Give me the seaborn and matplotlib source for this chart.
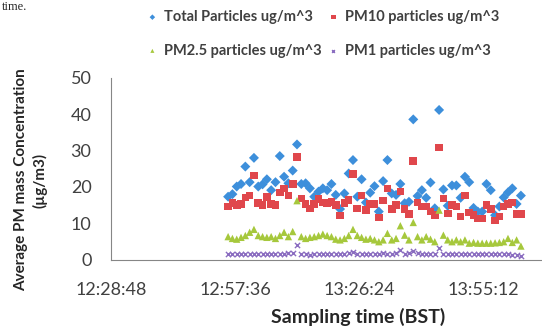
import numpy as np
import pandas as pd
import matplotlib.pyplot as plt
import matplotlib.dates as mdates
import seaborn as sns

# one reading per minute, 12:56 -> 14:04
start_time = "2013-01-01 12:56:00"
n_samples = 69

total = [17.3, 18.0, 20.1, 20.8, 25.6, 21.3, 28.0, 20.1, 20.7, 22.1, 19.1, 21.3, 28.5, 22.8, 21.0, 24.5, 31.7,
         20.8, 21.0, 19.6, 17.3, 18.7, 19.6, 19.1, 20.8, 17.8, 13.9, 18.2, 23.7, 27.4, 17.3, 22.1, 15.7, 18.4,
         20.2, 13.2, 21.6, 27.4, 18.2, 17.8, 20.8, 15.5, 15.9, 38.6, 17.5, 19.1, 17.0, 21.2, 14.1, 41.2, 19.3,
         14.8, 20.4, 20.4, 17.0, 22.8, 21.3, 14.2, 13.2, 13.2, 20.8, 19.1, 12.2, 14.6, 17.1, 18.5, 19.6, 15.3, 17.6]
pm10 = [14.6, 15.5, 15.0, 15.3, 17.1, 17.6, 23.1, 15.5, 15.0, 17.3, 15.3, 15.0, 18.5, 19.6, 17.6, 20.8, 28.3,
        16.8, 15.3, 14.1, 15.3, 16.6, 15.7, 15.5, 15.9, 15.0, 12.1, 15.5, 16.4, 23.5, 14.1, 17.6, 13.6, 15.3,
        15.3, 11.6, 16.2, 19.6, 13.9, 15.0, 18.7, 13.9, 12.5, 27.2, 15.7, 14.6, 14.6, 13.2, 12.2, 30.9, 16.8,
        12.7, 15.0, 14.6, 11.8, 17.6, 13.0, 12.2, 11.3, 11.3, 15.0, 13.9, 10.7, 11.8, 14.6, 15.3, 15.7, 12.5, 12.5]
pm25 = [6.3, 5.8, 5.6, 6.1, 6.6, 7.5, 8.3, 6.6, 6.3, 6.1, 6.3, 5.8, 6.6, 7.5, 6.3, 7.7, 16.2,
        6.3, 5.8, 6.1, 6.3, 6.6, 7.0, 6.6, 6.3, 5.6, 5.4, 5.8, 6.6, 8.3, 6.6, 6.1, 5.6, 5.8,
        5.4, 4.9, 5.4, 7.2, 5.4, 5.8, 9.3, 6.7, 5.4, 10.2, 6.3, 5.4, 6.3, 5.6, 4.9, 13.6, 6.7,
        5.4, 4.9, 5.4, 4.9, 5.4, 4.5, 4.7, 4.5, 4.5, 4.5, 4.5, 4.6, 4.7, 4.9, 5.8, 4.7, 5.4, 3.7]
pm1 = [1.4, 1.5, 1.4, 1.5, 1.6, 1.5, 1.5, 1.4, 1.5, 1.5, 1.4, 1.5, 1.5, 1.6, 1.9, 1.7, 4.0,
       1.4, 1.4, 1.3, 1.4, 1.5, 1.5, 1.5, 1.5, 1.4, 1.5, 1.6, 1.7, 2.0, 1.6, 1.5, 1.4, 1.5,
       1.5, 1.4, 1.8, 1.6, 1.5, 1.9, 2.6, 1.6, 1.8, 2.4, 1.7, 1.5, 1.5, 1.4, 1.4, 3.1, 1.6,
       1.4, 1.4, 1.4, 1.5, 1.4, 1.4, 1.5, 1.4, 1.4, 1.5, 1.4, 1.4, 1.4, 1.5, 1.4, 1.3, 1.2, 1.0]

series_names = ["Total Particles ug/m^3", "PM10 particles ug/m^3",
                "PM2.5 particles ug/m^3", "PM1 particles ug/m^3"]
tick_labels = ["12:28:48", "12:57:36", "13:26:24", "13:55:12"]

times = pd.date_range(start_time, periods=n_samples, freq="1min")
day = "2013-01-01 "

sns.set_style("white")
plt.rcParams["font.family"] = ["Lato", "DejaVu Sans"]

fig = plt.figure(figsize=(5.42, 3.33), dpi=100)
ax = fig.add_axes([111 / 542, 1 - 259.5 / 333, 1 - 111 / 542, (259.5 - 78) / 333])

colors = ["#3d8fdb", "#e0474c", "#a6c83c", "#8a6cc0"]
markers = ["D", "s", "^", "x"]
sizes = [26, 30, 28, 14]
for name, vals, c, m, s in zip(series_names, [total, pm10, pm25, pm1], colors, markers, sizes):
    if m == "x":
        sns.scatterplot(x=times, y=vals, color=c, marker=m, s=s, linewidth=1.0, label=name, ax=ax)
    else:
        sns.scatterplot(x=times, y=vals, color=c, marker=m, s=s, linewidth=0, edgecolor="none",
                        label=name, ax=ax)

ax.set_ylim(0, 50)
ax.set_yticks([0, 10, 20, 30, 40, 50])
ax.set_xlim(pd.Timestamp(day + "12:28:48"), pd.Timestamp(day + "14:08:54"))
ax.set_xticks([pd.Timestamp(day + t) for t in tick_labels])
ax.xaxis.set_major_formatter(mdates.DateFormatter("%H:%M:%S"))
ax.set_xlabel("")
ax.set_ylabel("")

for side in ["top", "right"]:
    ax.spines[side].set_visible(False)
for side in ["left", "bottom"]:
    ax.spines[side].set_color("#868686")
ax.tick_params(axis="both", direction="out", length=6, width=1, color="#868686",
               labelsize=13, labelcolor="#404040")
ax.tick_params(axis="y", pad=8)
ax.tick_params(axis="x", pad=10)

h, l = ax.get_legend_handles_labels()
order = [0, 2, 1, 3]
ax.legend([h[i] for i in order], [l[i] for i in order], ncol=2, frameon=False,
          loc="upper left", bbox_to_anchor=(148 / 542, 1 - 10 / 333), bbox_transform=fig.transFigure,
          prop={"weight": "bold", "size": 10.5}, labelcolor="#404040", markerscale=0.55,
          handlelength=0.6, handletextpad=0.5, columnspacing=0.5, labelspacing=1.35,
          borderpad=0, borderaxespad=0)

fig.text(31 / 542, 1 - 180 / 333, "Average PM mass Concentration\n(µg/m3)", rotation=90,
         ha="center", va="center", multialignment="center", fontsize=11, fontweight="bold",
         linespacing=1.4)
fig.text(358 / 542, 1 - 317 / 333, "Sampling time (BST)", ha="center", va="center",
         fontsize=14, fontweight="bold")
fig.text(0.003, 1 - 1 / 333, "time.", ha="left", va="top", fontsize=9, family="Liberation Serif")

fig.savefig("out.png", dpi=100, facecolor="white")
